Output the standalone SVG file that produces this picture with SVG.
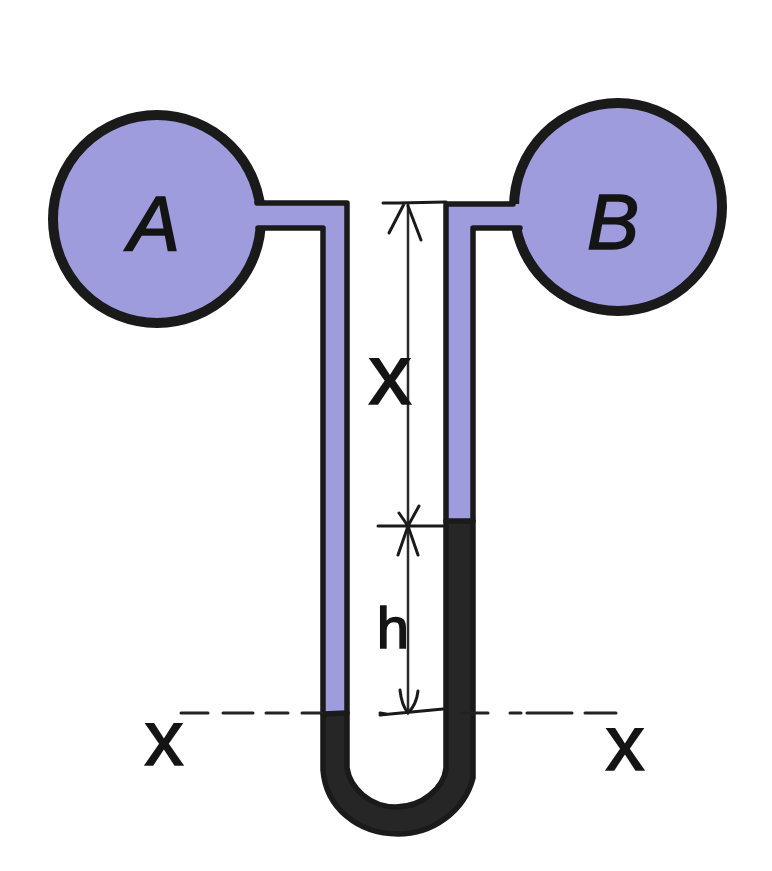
<svg xmlns="http://www.w3.org/2000/svg" width="772" height="871" viewBox="0 0 772 871">
<style>
.bulb{fill:#9f9cde;stroke:#1a1a1a;stroke-width:10}
.fill{fill:#9f9cde}
.dark{fill:#262626}
.wall{fill:none;stroke:#1a1a1a;stroke-width:5.5;stroke-linecap:round;stroke-linejoin:round}
.dim{fill:none;stroke:#2a2a2a;stroke-width:2.5;stroke-linecap:round}
.tick{fill:none;stroke:#1a1a1a;stroke-width:3;stroke-linecap:round}
.dash{fill:none;stroke:#222;stroke-width:3;stroke-linecap:round}
text{font-family:"Liberation Sans",Arial,sans-serif;fill:#141414;stroke:#141414;stroke-width:1.6;text-anchor:middle}
</style>
<rect width="772" height="871" fill="#fff"/>
<g id="bulb-a">
<circle class="bulb" cx="157" cy="219" r="104"/>
<text x="154" y="251" font-size="78" font-style="italic">A</text>
</g>
<g id="bulb-b">
<circle class="bulb" cx="618" cy="207" r="104"/>
<text x="613" y="249" font-size="78" font-style="italic">B</text>
</g>
<g id="tube-left">
<path class="fill" d="M240 203H347V713H322V228H240Z"/>
</g>
<g id="tube-right">
<path class="fill" d="M535 204H446V521H473V228H535Z"/>
</g>
<g id="mercury">
<path class="dark" d="M322 713H347V768C350 788 370 807 396 807C422 807 444 788 446 768V521H473V778C464 812 432 835 398 835C358 835 326 808 322 770Z"/>
</g>
<g id="walls">
<path class="wall" d="M257 203H347V768C350 788 370 807 396 807C422 807 444 788 446 768V204H513"/>
<path class="wall" d="M258 228H323V770C326 808 358 834 398 834C432 834 464 812 473 778V228H520"/>
<path class="wall" d="M446 521H473M323 714L347 713"/>
</g>
<g id="connectors">
<path class="dim" d="M408 204V712"/>
<path class="tick" d="M383 203L398 203L446 202M389 233L404 204M421 240L408 206"/>
<path class="tick" d="M378 526H443M399 513L408 526L419 506M398 555L408 526L418 555"/>
<path class="tick" d="M380 713L386 714M380 715L443 709M400 690C401 700 404 708 408 713C413 708 417 700 418 691"/>
<path class="dash" d="M181 713H208M223 713H253M266 713H288M302 713H322"/>
<path class="dash" d="M462 713H488M510 713H521M527 713H572M585 713H616"/>
</g>
<g id="labels">
<text x="390" y="404" font-size="86">x</text>
<text x="393" y="648" font-size="58">h</text>
<text x="164" y="765" font-size="78">x</text>
<text x="625" y="770" font-size="78">x</text>
</g>
</svg>
